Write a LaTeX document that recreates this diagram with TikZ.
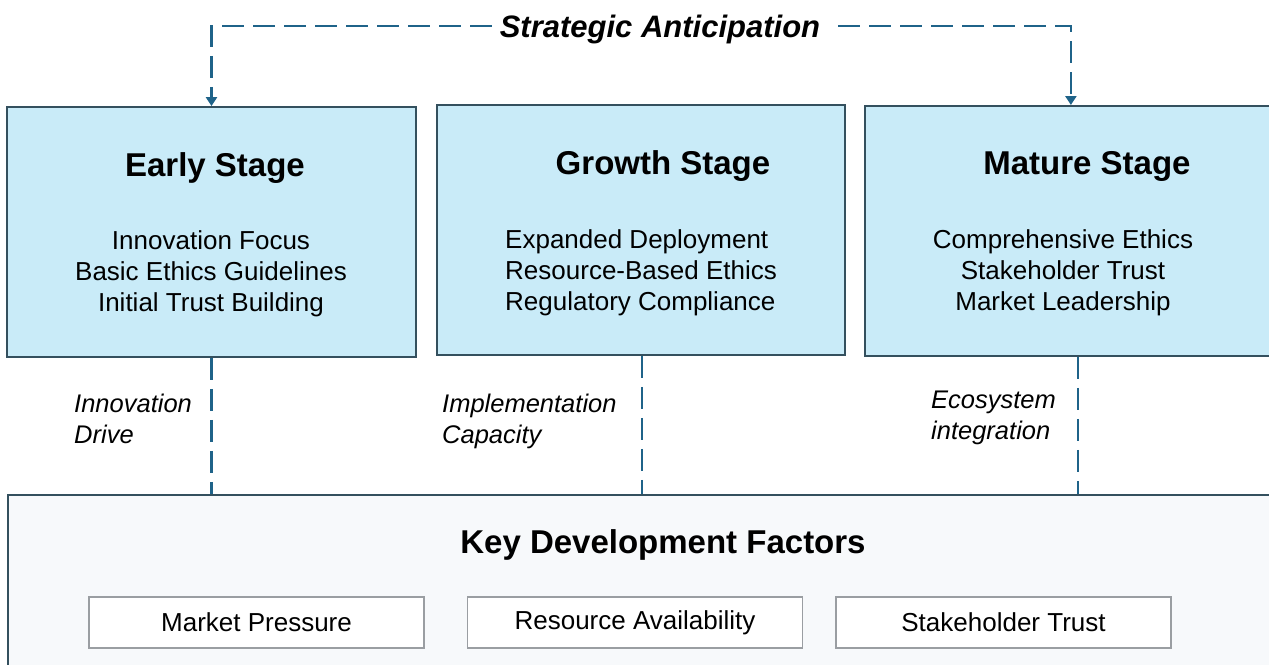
\documentclass[tikz,border=0pt]{standalone}
\usepackage{fontspec}
\setmainfont{Liberation Sans}
\usetikzlibrary{arrows.meta}
\definecolor{stagefill}{HTML}{C9EBF8}
\definecolor{stageline}{HTML}{34505E}
\definecolor{dashcol}{HTML}{1F6389}
\definecolor{basefill}{HTML}{F7F9FB}
\definecolor{factline}{HTML}{9A9EA2}
\begin{document}
\begin{tikzpicture}[x=1pt,y=-1pt,
  stagebox/.style={draw=stageline,fill=stagefill,line width=1.8pt,minimum width=#1,minimum height=250pt,inner sep=0pt,anchor=center},
  basebox/.style={draw=stageline,fill=basefill,line width=1.8pt,inner sep=0pt},
  factbox/.style={draw=factline,fill=white,line width=1.2pt,minimum width=335pt,minimum height=51pt,inner sep=0pt,font=\fontsize{26}{31}\selectfont},
  stitle/.style={font=\bfseries\fontsize{33}{38}\selectfont,inner sep=0pt},
  sbody/.style={font=\fontsize{26}{31}\selectfont,align=#1,inner sep=0pt},
  dlabel/.style={font=\itshape\fontsize{25.5}{31}\selectfont,align=left,inner sep=0pt,anchor=west},
  dashline/.style={draw=dashcol,line width=2.8pt,dash pattern=on 22pt off 9pt},
  arrowtip/.style={-{Triangle[width=11pt,length=9pt]}}
]
\useasboundingbox (0,0) rectangle (1269,664);
% bottom base box
\node[basebox,minimum width=1270pt,minimum height=180pt,anchor=north west] (base) at (7,494) {};
% stage boxes
\node[stagebox=409pt] (early) at (211.5,232) {};
\node[stagebox=408pt] (growth) at (641,230) {};
\node[stagebox=410pt,anchor=north west] (mature) at (864,105) {};
% titles
\node[stitle] (et) at (215,168) {Early Stage};
\node[stitle] (gt) at (663,166) {Growth Stage};
\node[stitle] (mt) at (1087,166) {Mature Stage};
% bodies
\node[sbody=center] (eb) at (211,274) {Innovation Focus\\Basic Ethics Guidelines\\Initial Trust Building};
\node[sbody=left,anchor=west] (gb) at (505,273) {Expanded Deployment\\Resource-Based Ethics\\Regulatory Compliance};
\node[sbody=center] (mb) at (1063,273) {Comprehensive Ethics\\Stakeholder Trust\\Market Leadership};
% connectors to base
\draw[dashline] (early.south) -- (early.south |- base.north);
\draw[dashline] ([xshift=1pt]growth.south) -- ([xshift=1pt]growth.south |- base.north);
\draw[dashline] ([xshift=8pt]mature.south) -- ([xshift=8pt]mature.south |- base.north);
% connector labels
\node[dlabel] (l1) at (74,419) {Innovation\\Drive};
\node[dlabel] (l2) at (442,421) {Implementation\\Capacity};
\node[dlabel] (l3) at (931,418) {Ecosystem\\integration};
% strategic anticipation
\node[font=\bfseries\itshape\fontsize{31}{36}\selectfont,inner sep=8pt] (sa) at (660,29) {Strategic Anticipation};
\draw[dashline,arrowtip] ([yshift=3pt]sa.west) -| (early.north);
\draw[dashline,arrowtip] ([xshift=10pt,yshift=3pt]sa.east) -| ([xshift=1pt]mature.north);
% base title and factors
\node[stitle] (kt) at (663,545) {Key Development Factors};
\node[factbox] (f1) at (256.5,622.5) {Market Pressure};
\node[factbox] (f2) at (635,622.5) {Resource Availability};
\node[factbox] (f3) at (1003.5,622.5) {Stakeholder Trust};
\end{tikzpicture}
\end{document}
